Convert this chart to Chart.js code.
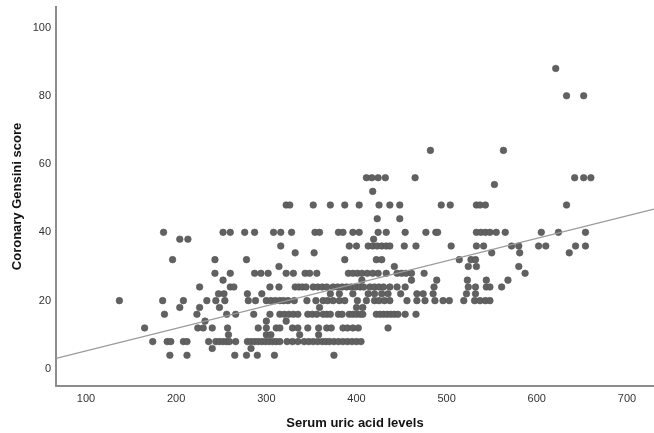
<!DOCTYPE html>
<html>
<head>
<meta charset="utf-8">
<script src="https://cdn.jsdelivr.net/npm/chart.js@4.4.1/dist/chart.umd.min.js"></script>
<style>
  html, body { margin: 0; padding: 0; background: #fff; }
  #wrap { width: 654px; height: 433px; }
</style>
</head>
<body>
<div id="wrap"><canvas id="scatterChart"></canvas></div>
<script>
// Gensini score rows (y) and the uric acid values (x) of the dots on each row
const scoreLevels = [4, 6, 8, 10, 12, 14, 16, 18, 20, 22, 24, 26, 28, 30, 32, 34, 36, 38, 40, 44, 48, 52, 54, 56, 64, 80, 88];
const uricAcidByLevel = [
    [193, 212, 265, 278, 290, 309, 375],
    [240, 283],
    [174, 190, 194, 208, 212, 236, 244, 248, 252, 256, 259, 266, 279, 283, 287, 291, 295, 299, 303, 307, 311, 315, 323, 329, 335, 342, 347, 352, 357, 362, 366, 370, 375, 380, 385, 390, 395, 400, 405],
    [258, 300, 305, 337, 358],
    [165, 224, 230, 240, 257, 291, 300, 311, 315, 329, 335, 346, 358, 367, 372, 385, 390, 396, 402, 435],
    [232, 300, 322],
    [187, 223, 256, 266, 286, 304, 315, 320, 325, 330, 335, 346, 351, 356, 363, 367, 371, 380, 384, 392, 396, 400, 404, 407, 422, 426, 430, 434, 438, 442, 446, 454, 466],
    [204, 226, 248, 359, 400, 407],
    [137, 185, 208, 234, 244, 254, 280, 288, 300, 305, 310, 315, 319, 324, 331, 345, 355, 363, 368, 374, 381, 387, 401, 411, 420, 425, 431, 437, 456, 467, 476, 487, 496, 503, 519, 531, 537, 543, 548],
    [247, 253, 279, 295, 371, 381, 396, 413, 420, 428, 435, 449, 467, 474, 485, 522, 532],
    [226, 260, 264, 304, 314, 332, 336, 340, 344, 352, 357, 362, 367, 374, 379, 384, 389, 394, 399, 404, 408, 415, 420, 425, 430, 437, 445, 454, 486, 524, 532, 544, 548, 561],
    [252, 406, 461, 489, 523, 544, 568],
    [243, 260, 287, 294, 302, 322, 330, 343, 348, 356, 391, 396, 401, 406, 412, 418, 424, 433, 445, 450, 455, 461, 475, 587],
    [314, 442, 524, 533, 580],
    [196, 243, 278, 387, 422, 428, 514, 527, 532],
    [332, 353, 550, 581, 636],
    [316, 392, 400, 413, 418, 423, 428, 433, 437, 453, 466, 505, 533, 541, 572, 580, 602, 610, 643, 654],
    [204, 213, 419],
    [186, 252, 260, 276, 287, 308, 316, 328, 354, 359, 380, 385, 396, 403, 424, 433, 454, 477, 488, 490, 533, 538, 543, 548, 555, 565, 605, 624, 654],
    [423, 448],
    [322, 326, 352, 371, 387, 403, 425, 437, 448, 494, 504, 533, 537, 543, 633],
    [418],
    [553],
    [411, 417, 424, 432, 465, 642, 652, 660],
    [482, 563],
    [633, 652],
    [621]
];

// Axis ticks
const xTicks = [100, 200, 300, 400, 500, 600, 700];
const yTicks = [0, 20, 40, 60, 80, 100];

// Fit line end points as drawn in the picture
const fitX = [66.7, 730];
const fitY = [3.1, 46.8];

const fontFamily = '"Liberation Sans", Arial, sans-serif';

// Build the point list
const points = [];
scoreLevels.forEach((score, i) => {
    uricAcidByLevel[i].forEach(x => points.push({ x: x, y: score }));
});
const fitLine = fitX.map((x, i) => ({ x: x, y: fitY[i] }));

new Chart(document.getElementById('scatterChart'), {
    type: 'scatter',
    data: {
        datasets: [
            {
                label: 'Fit',
                type: 'line',
                data: fitLine,
                borderColor: '#9a9a9a',
                borderWidth: 1.2,
                pointRadius: 0,
                fill: false
            },
            {
                label: 'Patients',
                data: points,
                backgroundColor: '#616161',
                borderColor: '#555555',
                borderWidth: 0.6,
                pointRadius: 3.3
            }
        ]
    },
    options: {
        responsive: true,
        maintainAspectRatio: false,
        animation: false,
        layout: { autoPadding: false, padding: { top: 7, right: 0, bottom: 0, left: 0 } },
        plugins: {
            legend: { display: false },
            tooltip: { enabled: false }
        },
        scales: {
            x: {
                type: 'linear',
                min: 66.7,
                max: 730,
                afterBuildTicks: axis => { axis.ticks = xTicks.map(v => ({ value: v })); },
                afterFit: axis => {
                    axis.height = 47;
                    axis.paddingLeft = 0;
                    axis.paddingRight = 0;
                },
                grid: { display: false, drawTicks: false },
                border: { display: true, color: '#8c8c8c', width: 2 },
                ticks: {
                    padding: 6,
                    color: '#333',
                    font: { family: fontFamily, size: 11 },
                    maxRotation: 0
                },
                title: {
                    display: true,
                    text: 'Serum uric acid levels',
                    color: '#111',
                    font: { family: fontFamily, size: 13, weight: 'bold' },
                    padding: { top: 0, bottom: 2 }
                }
            },
            y: {
                type: 'linear',
                min: -5,
                max: 106,
                afterBuildTicks: axis => { axis.ticks = yTicks.map(v => ({ value: v })); },
                afterFit: axis => {
                    axis.width = 56;
                    axis.paddingTop = 0;
                    axis.paddingBottom = 0;
                },
                grid: { display: false, drawTicks: false },
                border: { display: true, color: '#8c8c8c', width: 2 },
                ticks: {
                    padding: 5,
                    color: '#333',
                    font: { family: fontFamily, size: 11 }
                },
                title: {
                    display: true,
                    text: 'Coronary Gensini score',
                    color: '#111',
                    font: { family: fontFamily, size: 13, weight: 'bold' },
                    padding: { top: 10, bottom: 0 }
                }
            }
        }
    }
});
</script>
</body>
</html>
